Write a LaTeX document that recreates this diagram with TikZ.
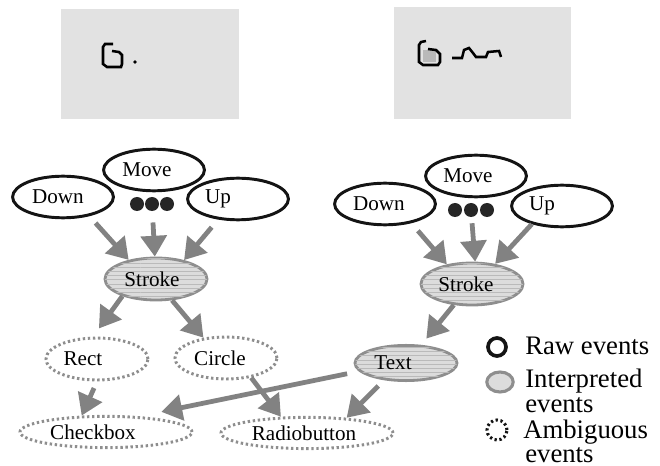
\documentclass[tikz,border=0pt]{standalone}
\usepackage{fontspec}
\setmainfont{Liberation Serif}
\usepackage{xcolor}
\usepackage{tikz}
\usetikzlibrary{positioning, arrows.meta, shapes.geometric, patterns}
\definecolor{boxgray}{HTML}{E2E2E2}
\definecolor{rawline}{HTML}{141414}
\definecolor{interline}{HTML}{8E8E8E}
\definecolor{interfill}{HTML}{DCDCDC}
\definecolor{interhatch}{HTML}{BABABA}
\definecolor{ambline}{HTML}{8E8E8E}
\definecolor{flowgray}{HTML}{828282}
\definecolor{dotfill}{HTML}{262626}
\newcommand{\lsh}[2]{#2\hspace*{#1}}

\begin{document}
\begin{tikzpicture}[x=0.025cm, y=-0.025cm, raw/.style={ellipse, draw=rawline, line width=2.1pt, minimum width=2.52cm, minimum height=1.04cm, inner sep=0pt, font=\fontsize{15}{17}\selectfont}, interp/.style={ellipse, draw=interline, fill=interfill, postaction={pattern=horizontal lines, pattern color=interhatch}, line width=2pt, minimum width=2.55cm, minimum height=1.05cm, inner sep=0pt, font=\fontsize{15}{17}\selectfont}, amb/.style={ellipse, draw=ambline, line width=2.1pt, dash pattern=on 1.7pt off 1.9pt, minimum width=2.55cm, minimum height=1.05cm, inner sep=0pt, font=\fontsize{15}{17}\selectfont}, bigamb/.style={amb, minimum width=4.3cm, minimum height=0.78cm}, dot/.style={circle, fill=dotfill, minimum size=0.35cm, inner sep=0pt}, flow/.style={draw=flowgray, line width=3.4pt, -{Triangle[length=0.52cm, width=0.64cm]}}, glyph/.style={draw=black, line width=1.8pt}, legtext/.style={anchor=base west, inner sep=0pt, font=\fontsize{19}{21}\selectfont}]
\useasboundingbox (0,0) rectangle (660,466);
\fill[boxgray] (61,9) rectangle (239,119);
\fill[boxgray] (394,7) rectangle (571,119);
\draw[glyph] (113,44) -- (105,44) -- (103,47) -- (103,64) -- (107,67) -- (121,67) -- (122,64) -- (122,55) -- (119,52) -- (112,51);
\fill (135,62) circle (0.045cm);
\fill[gray!55] (423,50) rectangle (436,62);
\draw[glyph] (426,41) -- (421,42) -- (419,45) -- (419,62) -- (423,65) -- (438,65) -- (440,62) -- (440,54) -- (436,50) -- (428,49);
\draw[glyph] (452,58) -- (462,58) -- (464,50) -- (469,48) -- (473,53) -- (476,57) -- (486,57) -- (488,52) -- (499,51) -- (501,57);
\node[raw] (lmove) at (154,170) {\lsh{0.35cm}{Move}};
\node[raw] (ldown) at (63,197) {\lsh{0.25cm}{Down}};
\node[raw] (lup) at (238,199) {\lsh{1cm}{Up}};
\foreach \i/\x in {1/137,2/152,3/167} \node[dot] (ldot\i) at (\x,204) {};
\node[interp] (lstroke) at (156,279) {\lsh{0.2cm}{Stroke}};
\node[amb] (rect) at (97,359) {\lsh{0.7cm}{Rect}};
\node[amb] (circ) at (226,358) {\lsh{0.3cm}{Circle}};
\node[bigamb] (checkbox) at (106,432) {\lsh{0.65cm}{Checkbox}};
\node[bigamb] (radio) at (307,433) {\lsh{0.15cm}{Radiobutton}};
\node[raw] (rmove) at (476,176) {\lsh{0.4cm}{Move}};
\node[raw] (rdown) at (385,204) {\lsh{0.3cm}{Down}};
\node[raw] (rup) at (562,206) {\lsh{1cm}{Up}};
\foreach \i/\x in {1/455,2/471,3/487} \node[dot] (rdot\i) at (\x,210) {};
\node[interp] (rstroke) at (472,284) {\lsh{0.3cm}{Stroke}};
\node[interp, minimum height=0.88cm] (txt) at (406,363) {\lsh{0.65cm}{Text}};
\draw[flow, shorten <=0.23cm] (ldown.-36) -- (lstroke.145);
\draw[flow, shorten <=0.28cm] (ldot2) -- (lstroke.93);
\draw[flow, shorten <=0.25cm] (lup.226) -- (lstroke.34);
\draw[flow, shorten >=0.25cm] (lstroke.207) -- (rect.100);
\draw[flow] (lstroke.-53) -- (circ.138);
\draw[flow, shorten <=0.18cm] (rect.-90) -- (checkbox.146);
\draw[flow] (circ.-38) -- (radio.148);
\draw[flow, shorten <=0.25cm] (rdown.-36) -- (rstroke.142);
\draw[flow, shorten <=0.15cm] (rdot2) -- (rstroke.82);
\draw[flow] (rup.211) -- (rstroke.41);
\draw[flow, shorten >=0.2cm] (rstroke.229) -- (txt.50);
\draw[flow, shorten <=0.2cm] (txt.218) -- (radio.21);
\draw[flow, shorten <=0.3cm, shorten >=0.55cm] (txt.190) -- (checkbox.25);
\node[circle, draw=rawline, line width=2.6pt, minimum size=0.45cm, inner sep=0pt] (keyraw) at (497,347) {};
\node[ellipse, draw=interline, fill=interfill, line width=2.2pt, minimum width=0.66cm, minimum height=0.5cm, inner sep=0pt] (keyint) at (500,382) {};
\node[circle, draw=rawline, line width=2.2pt, dash pattern=on 1.6pt off 1.9pt, minimum size=0.5cm, inner sep=0pt] (keyamb) at (497,430) {};
\node[legtext] (rawlbl) at (525,355) {Raw events};
\node[legtext] (intlbl) at (525,388) {Interpreted};
\node[legtext] (intlbl2) at (525,412) {events};
\node[legtext] (amblbl) at (523,438) {Ambiguous};
\node[legtext] (amblbl2) at (525,462) {events};
\end{tikzpicture}
\end{document}
